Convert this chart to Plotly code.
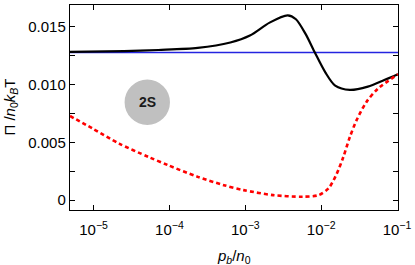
import plotly.graph_objects as go

# Black curve (osmotic pressure, full)
black_pb = [4.89e-6, 2.51e-5, 7.15e-5, 2.36e-4, 6.35e-4, 1.15e-3, 2.09e-3, 3.62e-3,
            4.65e-3, 6.25e-3, 8.26e-3, 1.135e-2, 1.53e-2, 2.39e-2, 4.13e-2, 6.79e-2, 0.103]
black_pi = [0.01283, 0.01290, 0.01300, 0.01318, 0.01365, 0.01425, 0.01537, 0.01600,
            0.01566, 0.01437, 0.01278, 0.01106, 0.00991, 0.00954, 0.00983, 0.01040, 0.01090]

# Red dotted curve
red_pb = [4.89e-6, 9.8e-6, 2.17e-5, 5.31e-5, 9.6e-5, 2.36e-4, 5.22e-4, 9.5e-4, 2.32e-3,
          5.66e-3, 9.29e-3, 1.25e-2, 1.61e-2, 1.96e-2, 2.39e-2, 2.92e-2, 3.94e-2, 5.56e-2, 0.103]
red_pi = [0.00728, 0.00618, 0.00489, 0.00373, 0.00302, 0.00201, 0.00129, 0.00086, 0.00043,
          0.00029, 0.00043, 0.00101, 0.00230, 0.00373, 0.00546, 0.00690, 0.00848, 0.00963, 0.01090]

# Blue horizontal reference
blue_pb = [4.89e-6, 0.103]
blue_pi = [0.01278, 0.01278]

x_tickvals = [1e-5, 1e-4, 1e-3, 1e-2, 1e-1]
x_ticktext = ["10<sup>\u22125</sup>", "10<sup>\u22124</sup>", "10<sup>\u22123</sup>",
              "10<sup>\u22122</sup>", "10<sup>\u22121</sup>"]
y_tickvals = [0, 0.0025, 0.005, 0.0075, 0.010, 0.0125, 0.015]
y_ticktext = ["0", "", "0.005", "", "0.010", "", "0.015"]

label = "2S"

fig = go.Figure()
fig.add_trace(go.Scatter(x=blue_pb, y=blue_pi, mode="lines",
                         line=dict(color="#2424e0", width=1.3), hoverinfo="skip"))
fig.add_trace(go.Scatter(x=black_pb, y=black_pi, mode="lines",
                         line=dict(color="black", width=2.2, shape="spline", smoothing=0.8)))
fig.add_trace(go.Scatter(x=red_pb, y=red_pi, mode="lines",
                         line=dict(color="#ff0000", width=2.6, dash="4px,3px",
                                   shape="spline", smoothing=0.8)))

font = "Liberation Sans, Arial, sans-serif"
fig.update_layout(
    width=415, height=265,
    margin=dict(l=70, r=11, t=4, b=55),
    paper_bgcolor="white", plot_bgcolor="white",
    showlegend=False,
    font=dict(family=font, size=15, color="black"),
    xaxis=dict(type="log", range=[-5.311, -0.987],
               tickvals=x_tickvals, ticktext=x_ticktext,
               ticks="inside", ticklen=5, tickwidth=1.2, tickcolor="black",
               ticklabeloverflow="allow", ticklabelstandoff=6,
               showline=True, linecolor="black", linewidth=1.4, mirror="ticks",
               showgrid=False, zeroline=False),
    yaxis=dict(range=[-0.000862, 0.016897],
               tickvals=y_tickvals, ticktext=y_ticktext,
               ticks="inside", ticklen=5, tickwidth=1.2, tickcolor="black",
               showline=True, linecolor="black", linewidth=1.4, mirror="ticks",
               showgrid=False, zeroline=False),
)

# gray disc with label
fig.add_shape(type="circle", xref="paper", yref="paper",
              xsizemode="pixel", ysizemode="pixel",
              xanchor=0.2356, yanchor=0.5257,
              x0=-22.7, x1=22.7, y0=-22.7, y1=22.7,
              fillcolor="#c0c0c0", line=dict(width=0), layer="below")
fig.add_annotation(x=0.2356, y=0.5257, xref="paper", yref="paper",
                   xanchor="center", yanchor="middle",
                   text="<b>" + label + "</b>", showarrow=False,
                   font=dict(family=font, size=14, color="#1a1a1a"))

# axis titles
fig.add_annotation(x=-61 / 334, y=0.5, xref="paper", yref="paper",
                   xanchor="center", yanchor="middle",
                   text="\u03a0 /<i>n</i><sub>0</sub><i>k</i><sub><i>B</i></sub>T",
                   textangle=-90, showarrow=False,
                   font=dict(family=font, size=15, color="black"))
fig.add_annotation(x=0.5, y=-47 / 206, xref="paper", yref="paper",
                   xanchor="center", yanchor="middle",
                   text="<i>p</i><sub><i>b</i></sub>/<i>n</i><sub>0</sub>",
                   showarrow=False, font=dict(family=font, size=15, color="black"))

fig.write_html("out.html", config={"displayModeBar": False},
               post_script="document.body.style.margin='0';")
